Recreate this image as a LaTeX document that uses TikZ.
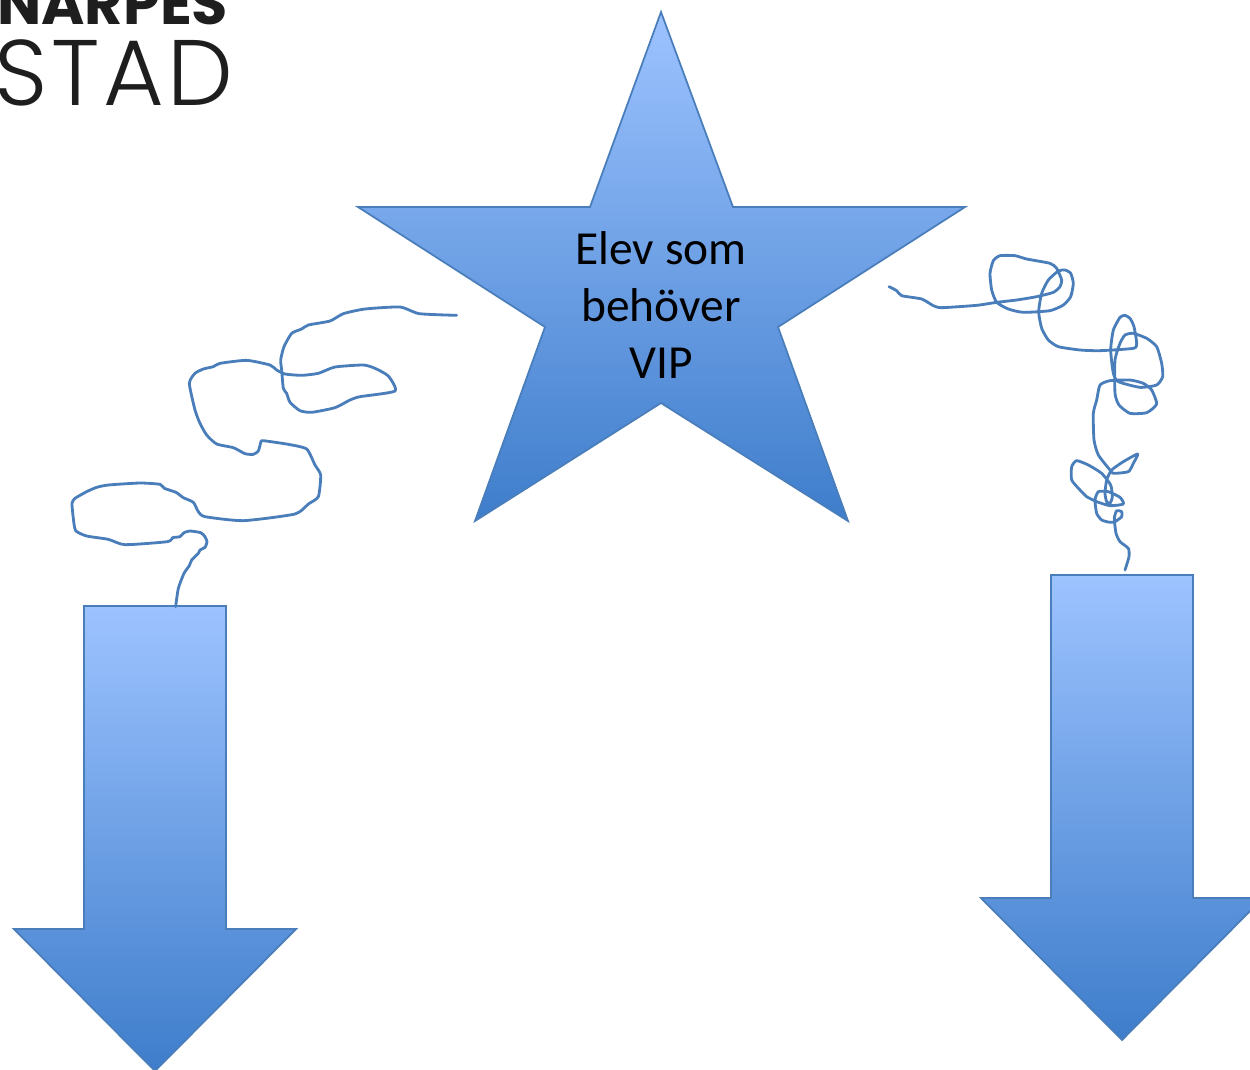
\documentclass[tikz,border=0pt]{standalone}
\usepackage{fontspec}
\setmainfont{Carlito}
\newfontfamily\logobold{Poppins Bold}
\newfontfamily\logolight[LetterSpace=4]{Poppins Light}
\definecolor{gradtop}{HTML}{9DC3FF}
\definecolor{gradbot}{HTML}{3E7DCB}
\definecolor{edgeblue}{HTML}{4A7EBB}
\definecolor{logoink}{HTML}{1E1E1E}
\tikzset{
  gradshape/.style={draw=edgeblue,line width=1pt,line join=miter,top color=gradtop,bottom color=gradbot},
  scribble/.style={draw=edgeblue,line width=1.6pt,line join=round,line cap=round},
  startext/.style={font=\fontsize{27}{32.4}\selectfont,text=black,align=center,inner sep=0pt},
}
\begin{document}
\begin{tikzpicture}[x=0.02cm,y=-0.02cm]
\useasboundingbox (0,0) rectangle (1250,1069);
\clip (0,0) rectangle (1250,1069);
\node[anchor=base west,inner sep=0pt,text=logoink,font=\logobold\fontsize{33.5}{37}\selectfont] (logotop) at (-3,24) {NARPES};
\node[anchor=base west,inner sep=0pt,text=logoink,font=\logolight\fontsize{53}{53}\selectfont] (logobot) at (-6,105) {STAD};
\path[gradshape] (661,12)--(733,207)--(965,207)--(778,327)--(848,521)--(661,403)--(475,521)--(545,327)--(358,207)--(590,207)--cycle;
\node[startext] (star) at (661,305) {Elev som\\behöver\\VIP};
\path[gradshape] (84,606)--(226,606)--(226,929)--(296,929)--(155,1071)--(14,929)--(84,929)--cycle;
\path[gradshape] (1051,575)--(1193,575)--(1193,898)--(1263,898)--(1122,1040)--(981,898)--(1051,898)--cycle;
\begin{scope}[shift={(60,295)},scale=1/3]
\draw[scribble] plot[smooth,tension=0.35] coordinates {(347,935)(355,880)(372,835)(388,812)(395,795)(415,775)(420,765)(435,757)(441,740)(435,725)(422,713)(390,708)(372,713)(360,725)(338,728)(322,740)(195,749)(145,733)(80,723)(47,707)(40,670)(36,625)(45,610)(80,590)(110,577)(145,570)(240,564)(300,568)(313,580)(348,592)(370,608)(400,622)(415,650)(435,665)(550,677)(705,657)(745,627)(775,605)(782,540)(765,510)(740,462)(685,448)(610,437)(603,440)(595,468)(580,478)(555,476)(520,458)(470,447)(440,420)(420,385)(405,345)(388,265)(405,235)(430,222)(460,215)(480,205)(560,196)(630,210)(650,225)(675,237)(725,241)(775,235)(825,216)(910,210)(945,220)(985,243)(1005,288)(900,305)(870,315)(825,338)(755,352)(720,347)(690,322)(680,295)(670,280)(665,225)(662,195)(672,155)(695,115)(725,102)(745,90)(810,78)(850,56)(915,42)(1020,36)(1078,56)(1190,61)};
\end{scope}
\begin{scope}[shift={(880,240)},scale=1/3]
\draw[scribble] plot[smooth,tension=0.35] coordinates {(27,140)(50,152)(65,167)(125,177)(160,197)(185,203)(290,196)(350,187)(410,180)(470,170)(520,157)(540,140)(545,120)(530,85)(510,70)(440,57)(405,47)(360,47)(340,62)(330,100)(335,150)(350,187)(385,207)(430,217)(510,212)(550,195)(572,170)(580,130)(572,100)(555,90)(535,93)(505,120)(485,160)(476,215)(485,265)(505,300)(535,320)(600,330)(660,332)(760,325)(770,310)(762,260)(750,235)(735,226)(720,232)(700,270)(692,330)(700,400)(715,425)(780,442)(830,435)(848,410)(845,370)(830,320)(800,295)(760,280)(735,285)(720,310)(705,360)(705,460)(717,495)(750,520)(800,518)(830,492)(815,450)(790,430)(750,420)(690,422)(660,435)(650,480)(640,520)(642,600)(655,645)(690,690)(700,700)(745,695)(760,670)(773,642)(730,665)(695,690)(680,720)(675,760)(680,785)(690,790)(697,770)(692,735)(665,700)(625,675)(590,662)(575,680)(575,720)(600,750)(620,770)(650,785)(690,797)(730,792)(720,772)(685,755)(655,755)(645,780)(650,820)(665,840)(690,847)(705,845)(725,830)(725,815)(710,812)(703,835)(708,880)(720,905)(745,925)(747,950)(735,990)};
\end{scope}
\end{tikzpicture}
\end{document}
